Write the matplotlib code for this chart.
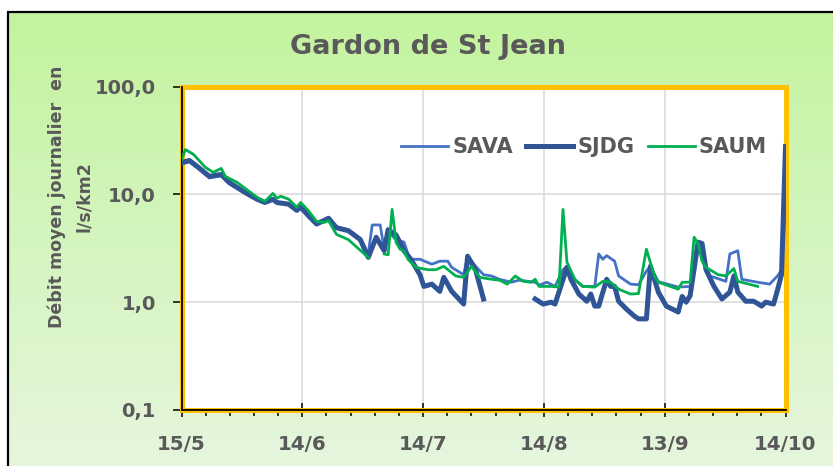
import numpy as np
import matplotlib
matplotlib.use("Agg")
import matplotlib.pyplot as plt
from matplotlib.patches import Rectangle
from matplotlib.ticker import FixedLocator, NullLocator

# ---- data (day 0 = 15 May) ----
tick_days = [0, 30.4, 60.8, 91.2, 121.6, 152]
tick_labels = ["15/5", "14/6", "14/7", "14/8", "13/9", "14/10"]
y_ticks = [0.1, 1, 10, 100]
y_tick_labels = ["0,1", "1,0", "10,0", "100,0"]

sava_day = [0, 2, 4, 7, 10, 12, 14, 16, 19, 21, 23, 24, 27, 29, 30, 32, 34, 37, 39, 42,
            45, 47, 48, 50, 51, 52, 54, 56, 57, 58, 60, 63, 65, 67, 68, 71, 72, 74, 76, 78,
            80, 83, 85, 89, 90, 92, 94, 96, 97, 99, 101, 104, 105, 106, 107, 109, 110, 113,
            115, 117, 118, 120, 125, 128, 130, 131, 133, 137, 138, 140, 141, 145, 148, 150,
            151, 152]
sava_val = [19.0, 20.0, 17.6, 14.2, 14.8, 12.5, 11.3, 10.5, 9.2, 8.5, 8.9, 8.5, 8.2, 7.3,
            7.5, 6.4, 5.5, 6.0, 5.0, 4.7, 3.9, 2.8, 5.2, 5.2, 3.1, 4.5, 3.8, 3.6, 2.8, 2.5,
            2.5, 2.25, 2.4, 2.4, 2.1, 1.8, 2.67, 2.15, 1.8, 1.75, 1.63, 1.53, 1.6, 1.53, 1.44,
            1.53, 1.4, 2.0, 2.15, 1.6, 1.4, 1.4, 2.8, 2.5, 2.7, 2.4, 1.75, 1.47, 1.45, 1.94,
            2.15, 1.55, 1.38, 1.4, 3.6, 2.5, 1.75, 1.56, 2.8, 3.0, 1.63, 1.53, 1.47, 1.75,
            2.0, 8.0]

sjdg_day = [0, 2, 4, 7, 10, 12, 16, 19, 21, 23, 24, 27, 29, 30, 32, 34, 37, 39, 42, 45,
            47, 49, 51, 52, 54, 56, 58, 60, 61, 63, 65, 66, 68, 71, 72, 74, 76, 82, 89, 91,
            93, 94, 97, 98, 100, 102, 103, 104, 105, 107, 108, 109, 110, 112, 114, 115, 117,
            118, 120, 122, 125, 126, 127, 128, 130, 131, 132, 134, 136, 138, 139, 140, 142,
            144, 146, 147, 149, 150, 151, 152]
sjdg_val = [19.8, 20.6, 18.1, 14.7, 15.3, 12.9, 10.4, 9.0, 8.4, 9.0, 8.4, 8.1, 7.1, 7.6,
            6.3, 5.3, 6.0, 4.9, 4.6, 3.8, 2.6, 4.0, 3.0, 4.7, 4.2, 3.0, 2.4, 1.8, 1.4, 1.47,
            1.26, 1.7, 1.26, 0.96, 2.67, 2.0, 1.07, None, 1.07, 0.96, 1.0, 0.96, 2.1, 1.63,
            1.19, 1.02, 1.19, 0.92, 0.92, 1.63, 1.4, 1.4, 1.02, 0.86, 0.74, 0.70, 0.70, 2.15,
            1.24, 0.92, 0.81, 1.13, 1.0, 1.15, 3.6, 3.5, 2.0, 1.4, 1.07, 1.24, 1.75, 1.24,
            1.02, 1.02, 0.92, 1.0, 0.96, 1.3, 1.8, 27.8]

saum_day = [0, 1, 3, 6, 8, 10, 11, 14, 19, 21, 23, 24, 25, 27, 29, 30, 32, 34, 36, 37,
            39, 42, 47, 49, 51, 52, 53, 54, 55, 56, 57, 59, 62, 64, 66, 69, 71, 73, 75, 78,
            80, 82, 84, 86, 88, 89, 90, 93, 95, 96, 97, 99, 101, 104, 106, 108, 110, 113,
            115, 117, 119, 120, 125, 126, 128, 129, 130, 131, 132, 134, 135, 137, 139, 140,
            145]
saum_val = [21.0, 26.0, 23.5, 17.8, 16.0, 17.4, 14.7, 12.9, 9.4, 8.6, 10.2, 9.2, 9.6, 9.0,
            7.6, 8.4, 7.0, 5.6, 5.5, 5.7, 4.25, 3.8, 2.6, None, 2.8, 2.75, 7.25, 3.6, 3.1,
            3.0, 2.5, 2.1, 2.0, 2.0, 2.15, 1.75, 1.7, 2.15, 1.7, 1.63, 1.6, 1.47, 1.75, 1.56,
            1.53, 1.63, 1.4, 1.4, 1.38, 7.25, 2.35, 1.63, 1.4, 1.38, 1.56, 1.53, 1.32, 1.19,
            1.2, 3.1, 1.75, 1.53, 1.32, 1.53, 1.53, 4.0, 3.5, 2.4, 2.1, 1.9, 1.8, 1.75, 2.05,
            1.56, 1.4]

# ---- styling ----
FONT = "DejaVu Sans"
TEXT_GREY = "#595959"
W, H = 833, 466
DPI = 100

fig = plt.figure(figsize=(W / DPI, H / DPI), dpi=DPI)
fig.patch.set_facecolor("white")

# chart-area background: soft vertical green gradient with black frame
bg = fig.add_axes([0, 0, 1, 1], zorder=-10)
bg.set_xlim(0, W)
bg.set_ylim(H, 0)
bg.axis("off")
top_col = np.array([0.765, 0.953, 0.620])
bot_col = np.array([0.900, 0.965, 0.870])
t = np.linspace(0, 1, 256)[:, None]
grad = (top_col[None, :] * (1 - t) + bot_col[None, :] * t)[:, None, :]
bg.imshow(grad, extent=[8, W, H, 12], aspect="auto", interpolation="bilinear")
bg.plot([8, 8], [11.5, H], color="black", lw=1.6, solid_capstyle="butt")
bg.plot([7.2, W], [12, 12], color="black", lw=1.6, solid_capstyle="butt")

# plot area
left, right = 181.5 / W, 785.5 / W
bottom, top = (H - 410) / H, (H - 86.5) / H
ax = fig.add_axes([left, bottom, right - left, top - bottom])
ax.set_facecolor("white")
ax.set_yscale("log")
ax.set_xlim(tick_days[0], tick_days[-1])
ax.set_ylim(y_ticks[0], y_ticks[-1])

ax.add_patch(Rectangle((0, 0), 1, 1, transform=ax.transAxes, fill=False,
                       edgecolor="#FFC000", lw=3.6, zorder=1.5, clip_on=False))

ax.plot(sava_day, np.array(sava_val, dtype=float), color="#4472C4", lw=2.0,
        label="SAVA", zorder=3, solid_joinstyle="round")
ax.plot(sjdg_day, np.array(sjdg_val, dtype=float), color="#2F5597", lw=3.6,
        label="SJDG", zorder=3.1, solid_joinstyle="round")
ax.plot(saum_day, np.array(saum_val, dtype=float), color="#00B050", lw=2.0,
        label="SAUM", zorder=3.2, solid_joinstyle="round")

# axes, ticks, grid
for s in ("top", "right"):
    ax.spines[s].set_visible(False)
for s in ("left", "bottom"):
    ax.spines[s].set_color("black")
    ax.spines[s].set_linewidth(1.3)
    ax.spines[s].set_zorder(2.5)

ax.xaxis.set_major_locator(FixedLocator(tick_days))
ax.set_xticklabels(tick_labels)
minor_x = [tick_days[i] + (tick_days[i + 1] - tick_days[i]) * k / 5
           for i in range(len(tick_days) - 1) for k in range(1, 5)]
ax.xaxis.set_minor_locator(FixedLocator(minor_x))
ax.yaxis.set_major_locator(FixedLocator(y_ticks))
ax.set_yticklabels(y_tick_labels)
ax.yaxis.set_minor_locator(NullLocator())

ax.tick_params(axis="x", which="major", direction="inout", length=9.5, width=1.1,
               color="black", pad=13, labelsize=14.3, labelcolor=TEXT_GREY)
ax.tick_params(axis="x", which="minor", direction="out", length=4.5, width=1.1,
               color="black")
ax.tick_params(axis="y", which="major", direction="out", length=6.5, width=1.1,
               color="black", pad=12, labelsize=14.0, labelcolor=TEXT_GREY)
for lab in ax.get_xticklabels() + ax.get_yticklabels():
    lab.set_fontfamily(FONT)
    lab.set_fontweight("bold")

ax.grid(True, which="major", color="#D9D9D9", lw=1.1)
ax.set_axisbelow(True)

# legend
leg = ax.legend(loc="center", bbox_to_anchor=(584 / W, (H - 147) / H),
                bbox_transform=fig.transFigure, ncol=3, frameon=False,
                handlelength=2.25, handletextpad=0.2, columnspacing=0.65,
                prop={"family": FONT, "weight": "bold", "size": 15})
for txt in leg.get_texts():
    txt.set_color(TEXT_GREY)

# title and axis label
fig.text(428 / W, (H - 47) / H, "Gardon de St Jean", ha="center", va="center",
         fontsize=19.5, fontweight="bold", color=TEXT_GREY, family=FONT)
fig.text(70 / W, (H - 197) / H, "Débit moyen journalier  en\nl/s/km2", rotation=90,
         ha="center", va="center", multialignment="center", fontsize=12.5,
         color=TEXT_GREY, family=FONT, fontweight="bold", linespacing=1.65)

fig.savefig("out.png", dpi=DPI)
